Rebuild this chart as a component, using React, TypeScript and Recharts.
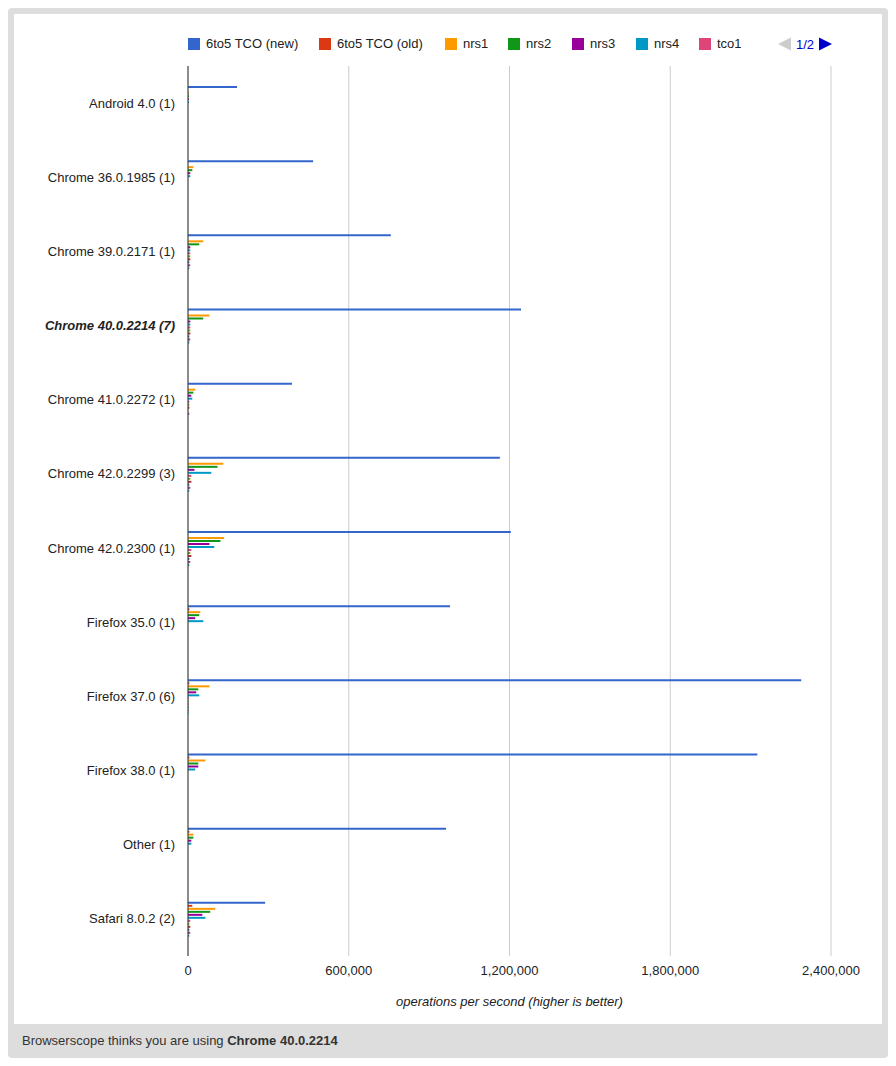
import React from "react";
import { BarChart, Bar, XAxis, YAxis, CartesianGrid } from "recharts";

const categories = [
  "Android 4.0 (1)",
  "Chrome 36.0.1985 (1)",
  "Chrome 39.0.2171 (1)",
  "Chrome 40.0.2214 (7)",
  "Chrome 41.0.2272 (1)",
  "Chrome 42.0.2299 (3)",
  "Chrome 42.0.2300 (1)",
  "Firefox 35.0 (1)",
  "Firefox 37.0 (6)",
  "Firefox 38.0 (1)",
  "Other (1)",
  "Safari 8.0.2 (2)",
];

const seriesNames = [
  "6to5 TCO (new)",
  "6to5 TCO (old)",
  "nrs1",
  "nrs2",
  "nrs3",
  "nrs4",
  "tco1",
  "tco2",
  "tco3",
  "tco4",
  "tco5",
  "tco6",
];

const seriesColors = [
  "#3366cc",
  "#dc3912",
  "#ff9900",
  "#109618",
  "#990099",
  "#0099c6",
  "#dd4477",
  "#66aa00",
  "#b82e2e",
  "#316395",
  "#994499",
  "#22aa99",
];

const tcoNew = [183000, 467000, 757000, 1243000, 388000, 1164000, 1205000, 978000, 2289000, 2125000, 963000, 288000];
const tcoOld = [0, 0, 0, 0, 0, 0, 0, 5000, 5000, 5000, 5000, 16000];
const nrs1 = [3000, 20000, 57000, 80000, 27000, 132000, 135000, 46000, 80000, 65000, 20000, 102000];
const nrs2 = [3000, 16000, 42000, 57000, 20000, 110000, 121000, 42000, 38500, 38500, 20000, 83000];
const nrs3 = [3000, 8500, 8500, 8500, 12500, 24000, 80000, 27000, 31000, 38500, 12500, 53500];
const nrs4 = [3000, 8500, 8500, 8500, 16000, 87000, 98000, 57000, 42000, 27000, 12500, 65000];
const tco1 = [0, 0, 8500, 8500, 5000, 12500, 12500, 0, 2000, 0, 0, 8500];
const tco2 = [0, 0, 8500, 8500, 5000, 8500, 8500, 0, 2000, 0, 0, 5000];
const tco3 = [0, 0, 8500, 8500, 5000, 12500, 12500, 0, 2000, 0, 0, 8500];
const tco4 = [0, 0, 5000, 5000, 0, 5000, 5000, 0, 2000, 0, 0, 5000];
const tco5 = [0, 0, 8500, 8500, 5000, 8500, 8500, 0, 2000, 0, 0, 8500];
const tco6 = [0, 0, 5000, 5000, 0, 5000, 5000, 0, 2000, 0, 0, 5000];

const seriesValues = [tcoNew, tcoOld, nrs1, nrs2, nrs3, nrs4, tco1, tco2, tco3, tco4, tco5, tco6];

const xTicks = [0, 600000, 1200000, 1800000, 2400000];
const currentBrowser = "Chrome 40.0.2214 (7)";

const data = categories.map((name, i) => {
  const row: Record<string, string | number> = { name };
  seriesNames.forEach((s, j) => {
    row["s" + j] = seriesValues[j][i];
  });
  return row;
});

const legendX = [188, 319, 445, 508, 572, 636, 699];

const FONT = "Arial, 'Liberation Sans', Helvetica, sans-serif";
const FS = 13;

function CategoryTick(props: any) {
  const { x, y, payload } = props;
  const isCurrent = payload.value === currentBrowser;
  return (
    <text
      x={x}
      y={y}
      dy={4.5}
      textAnchor="end"
      fontSize={FS}
      fontFamily={FONT}
      fill="#222"
      fontWeight={isCurrent ? "bold" : "normal"}
      fontStyle={isCurrent ? "italic" : "normal"}
    >
      {payload.value}
    </text>
  );
}

function TopLegend() {
  return (
    <div style={{ position: "absolute", left: 0, top: 0, width: 896, height: 60, fontFamily: FONT, fontSize: FS, color: "#222" }}>
      {legendX.map((lx, i) => (
        <div key={i} style={{ position: "absolute", left: lx, top: 37, display: "flex", alignItems: "center" }}>
          <div style={{ width: 12, height: 12, background: seriesColors[i], marginRight: 6 }} />
          <span style={{ lineHeight: "14px" }}>{seriesNames[i]}</span>
        </div>
      ))}
      <svg style={{ position: "absolute", left: 777, top: 37 }} width={58} height={14}>
        <polygon points="1,7 14,0.5 14,13.5" fill="#cccccc" />
        <text x={19} y={11.5} fontSize={FS} fontFamily={FONT} fill="#0000cc">1/2</text>
        <polygon points="42,0.5 55,7 42,13.5" fill="#0000cc" />
      </svg>
    </div>
  );
}

export default function App() {
  return (
    <div style={{ position: "relative", width: 880, height: 1050, background: "#dddddd", borderRadius: 4, fontFamily: FONT }}>
      <div style={{ position: "absolute", left: 6, top: 6, width: 868, height: 1010, background: "#ffffff" }}>
        <BarChart
          width={868}
          height={1010}
          data={data}
          layout="vertical"
          margin={{ top: 52, right: 51, bottom: 0, left: 0 }}
          barSize={2}
          barGap={1}
        >
          <CartesianGrid horizontal={false} stroke="#cccccc" />
          <XAxis
            type="number"
            domain={[0, 2400000]}
            ticks={xTicks}
            axisLine={false}
            tickLine={false}
            tickMargin={4}
            height={68}
            tick={{ fontSize: FS, fill: "#222", fontFamily: FONT }}
            tickFormatter={(v: number) => v.toLocaleString("en-US")}
            label={{
              value: "operations per second (higher is better)",
              position: "insideBottom",
              offset: 18,
              style: { fontSize: FS, fontStyle: "italic", fill: "#222", fontFamily: FONT },
            }}
          />
          <YAxis
            type="category"
            dataKey="name"
            width={174}
            tickLine={false}
            axisLine={{ stroke: "#333333", strokeWidth: 1 }}
            tick={<CategoryTick />}
            tickMargin={7}
            interval={0}
          />
          {seriesNames.map((s, j) => (
            <Bar key={s} dataKey={"s" + j} name={s} fill={seriesColors[j]} isAnimationActive={false} />
          ))}
        </BarChart>
      </div>
      <div style={{ position: "absolute", left: 14, top: 1025, fontSize: FS, color: "#333" }}>
        Browserscope thinks you are using <b>Chrome 40.0.2214</b>
      </div>
      <div style={{ position: "absolute", left: -8, top: -8 }}>
        <TopLegend />
      </div>
    </div>
  );
}
